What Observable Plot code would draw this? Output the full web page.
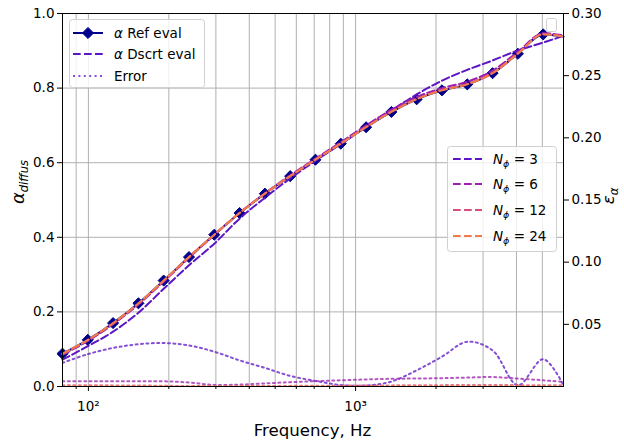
<!DOCTYPE html>
<html><head><meta charset="utf-8">
<script src="https://cdn.jsdelivr.net/npm/d3@7"></script>
<script src="https://cdn.jsdelivr.net/npm/@observablehq/plot@0.6"></script>
<style>
body{margin:0;background:#fff;}
svg{font-family:"DejaVu Sans",sans-serif;}
</style>
</head><body><div id="chart"></div>
<script>
// Frequencies (Hz) of the evaluation points (markers at all but the last)
const freq = [80, 99.5, 123.7, 153.9, 191.3, 238.0, 295.9, 368.0, 457.7, 569.2, 707.8, 880.3, 1094.7, 1361.4, 1693, 2105, 2618, 3256, 4050, 5036, 6000];
// alpha reference evaluation
const alphaRef = [0.088, 0.125, 0.170, 0.223, 0.284, 0.347, 0.407, 0.465, 0.517, 0.564, 0.608, 0.651, 0.695, 0.736, 0.770, 0.794, 0.810, 0.840, 0.892, 0.944, 0.938];
// alpha discrete evaluation, per N_phi
const alphaN3  = [0.072, 0.108, 0.147, 0.198, 0.262, 0.325, 0.383, 0.450, 0.506, 0.558, 0.605, 0.650, 0.696, 0.740, 0.783, 0.820, 0.849, 0.874, 0.901, 0.922, 0.940];
const alphaN6  = [0.085, 0.122, 0.167, 0.220, 0.281, 0.345, 0.406, 0.465, 0.518, 0.566, 0.611, 0.655, 0.700, 0.742, 0.776, 0.800, 0.817, 0.847, 0.897, 0.947, 0.941];
const alphaN12 = [0.087, 0.124, 0.169, 0.222, 0.283, 0.347, 0.407, 0.465, 0.517, 0.564, 0.609, 0.652, 0.696, 0.737, 0.771, 0.795, 0.811, 0.841, 0.893, 0.945, 0.939];
const alphaN24 = [0.088, 0.125, 0.170, 0.223, 0.284, 0.347, 0.407, 0.465, 0.517, 0.564, 0.608, 0.651, 0.695, 0.736, 0.770, 0.794, 0.810, 0.840, 0.892, 0.944, 0.938];
// error (right axis)
const errN3  = [0.019, 0.026, 0.031, 0.034, 0.035, 0.033, 0.028, 0.021, 0.015, 0.0085, 0.0045, 0.0012, 0.0008, 0.004, 0.013, 0.024, 0.036, 0.029, 0.001, 0.022, 0.001];
const errN6  = [0.0043, 0.0043, 0.0043, 0.0043, 0.0042, 0.0032, 0.0013, 0.0015, 0.0025, 0.0035, 0.0043, 0.0050, 0.0057, 0.0062, 0.0064, 0.0067, 0.0072, 0.0076, 0.0064, 0.0050, 0.0037];
const errN12 = [0.0010, 0.0010, 0.0009, 0.0008, 0.0006, 0.0004, 0.0003, 0.0003, 0.0004, 0.0005, 0.0006, 0.0007, 0.0008, 0.0009, 0.0010, 0.0011, 0.0012, 0.0012, 0.0011, 0.0010, 0.0010];
const errN24 = [0.0004, 0.0004, 0.0004, 0.0003, 0.0003, 0.0002, 0.0002, 0.0002, 0.0002, 0.0003, 0.0003, 0.0003, 0.0004, 0.0004, 0.0004, 0.0005, 0.0005, 0.0005, 0.0005, 0.0004, 0.0004];

const seriesNames = ["3", "6", "12", "24"];
const seriesColors = ["#5b14c6", "#9c1fae", "#d6517a", "#f07c4c"];
const refColor = "#00008b";
const leftTicks = [0, 0.2, 0.4, 0.6, 0.8, 1.0];
const leftGrid = [0.2, 0.4, 0.6, 0.8];
const rightTicks = [0.05, 0.10, 0.15, 0.20, 0.25, 0.30];
const errMax = 0.30;
const xMajorTicks = [100, 1000];
const xMajorLabels = ["10²", "10³"];
const xMinorTicks = [90, 200, 300, 400, 500, 600, 700, 800, 900, 2000, 3000, 4000, 5000];

const refRows = freq.map((f, i) => ({f, a: alphaRef[i]}));
const alphaSeries = [alphaN3, alphaN6, alphaN12, alphaN24];
const errSeries = [errN3, errN6, errN12, errN24];
const dscrtRows = [], errRows = [];
seriesNames.forEach((s, k) => {
  freq.forEach((f, i) => {
    dscrtRows.push({f, a: alphaSeries[k][i], s});
    errRows.push({f, e: errSeries[k][i], s});
  });
});

const markerR = 5.0;

const chart = Plot.plot({
  width: 624, height: 442,
  marginLeft: 62, marginRight: 61, marginTop: 13, marginBottom: 56,
  x: {type: "log", domain: [80, 6000]},
  y: {domain: [0, 1]},
  color: {domain: seriesNames, range: seriesColors},
  style: {fontFamily: "DejaVu Sans", fontSize: "13.5px", color: "black", background: "white"},
  marks: [
    Plot.gridX([...xMinorTicks, ...xMajorTicks], {stroke: "#b0b0b0", strokeOpacity: 1, strokeWidth: 1}),
    Plot.gridY(leftGrid, {stroke: "#b0b0b0", strokeOpacity: 1, strokeWidth: 1}),
    Plot.line(refRows, {x: "f", y: "a", stroke: refColor, strokeWidth: 2, curve: "monotone-x"}),
    Plot.dot(refRows.slice(0, 20), {x: "f", y: "a", symbol: "diamond2", r: markerR, fill: refColor, stroke: refColor, strokeWidth: 1}),
    Plot.line(dscrtRows, {x: "f", y: "a", z: "s", stroke: "s", strokeWidth: 2, strokeDasharray: "7.7,3.3", curve: "monotone-x"}),
    Plot.line(errRows, {x: "f", y: d => d.e / errMax, z: "s", stroke: "s", strokeWidth: 2, strokeOpacity: 0.75, strokeDasharray: "2,3.4", curve: "catmull-rom", clip: true}),
    Plot.frame({stroke: "black", strokeWidth: 1}),
    Plot.axisX(xMajorTicks, {tickSize: 5, tickPadding: 10, tickFormat: (d) => xMajorLabels[xMajorTicks.indexOf(d)], label: null}),
    Plot.axisX(xMinorTicks, {tickSize: 3, tickFormat: () => "", label: null}),
    Plot.axisY(leftTicks, {tickSize: 5, tickPadding: 3, tickFormat: d => d.toFixed(1), label: null}),
    Plot.axisY(rightTicks.map(v => v / errMax), {anchor: "right", tickSize: 5, tickPadding: 3, tickFormat: d => (d * errMax).toFixed(2), label: null})
  ]
});
document.getElementById("chart").appendChild(chart);

const svg = d3.select(chart);
const g = svg.append("g").attr("font-family", "DejaVu Sans").attr("fill", "black").attr("text-anchor", "start");

// axis labels
g.append("text").attr("x", 312.5).attr("y", 436).attr("text-anchor", "middle").attr("font-size", 16.6).text("Frequency, Hz");
const yl = g.append("text").attr("transform", "translate(24,182) rotate(-90)").attr("text-anchor", "middle").attr("font-size", 16.6);
yl.append("tspan").attr("font-style", "italic").attr("font-size", 18).text("α");
yl.append("tspan").attr("font-style", "italic").attr("font-size", 11.6).attr("dy", 4).text("diffus");
const yr = g.append("text").attr("transform", "translate(614,196) rotate(-90)").attr("text-anchor", "middle").attr("font-size", 16.6);
yr.append("tspan").attr("font-style", "italic").text("ε");
yr.append("tspan").attr("font-style", "italic").attr("font-size", 11.6).attr("dy", 4).text("α");

// empty legend box (twin axis)
g.append("rect").attr("x", 546.5).attr("y", 18.5).attr("width", 10).attr("height", 13).attr("rx", 2)
  .attr("fill", "white").attr("fill-opacity", 0.8).attr("stroke", "#d0d0d0");

// legend 1
const L1 = g.append("g");
L1.append("rect").attr("x", 69.5).attr("y", 19.5).attr("width", 135).attr("height", 68).attr("rx", 3)
  .attr("fill", "white").attr("fill-opacity", 0.8).attr("stroke", "#d0d0d0");
const l1rows = [33, 54, 76];
L1.append("line").attr("x1", 73).attr("x2", 103).attr("y1", l1rows[0]).attr("y2", l1rows[0]).attr("stroke", refColor).attr("stroke-width", 2);
L1.append("path").attr("d", d3.symbol(d3.symbolDiamond2, Math.PI * markerR * markerR)()).attr("transform", `translate(88,${l1rows[0]})`).attr("fill", refColor).attr("stroke", refColor);
L1.append("line").attr("x1", 73).attr("x2", 103).attr("y1", l1rows[1]).attr("y2", l1rows[1]).attr("stroke", seriesColors[0]).attr("stroke-width", 2).attr("stroke-dasharray", "7.7,3.3");
L1.append("line").attr("x1", 73).attr("x2", 103).attr("y1", l1rows[2]).attr("y2", l1rows[2]).attr("stroke", seriesColors[0]).attr("stroke-opacity", 0.75).attr("stroke-width", 2).attr("stroke-dasharray", "2,3.4");
const t1 = L1.append("text").attr("x", 114).attr("y", l1rows[0] + 5).attr("font-size", 13.5).attr("text-anchor", "start");
t1.append("tspan").attr("font-style", "italic").text("α");
t1.append("tspan").text(" Ref eval");
const t2 = L1.append("text").attr("x", 114).attr("y", l1rows[1] + 5).attr("font-size", 13.5).attr("text-anchor", "start");
t2.append("tspan").attr("font-style", "italic").text("α");
t2.append("tspan").text(" Dscrt eval");
L1.append("text").attr("x", 114).attr("y", l1rows[2] + 5).attr("font-size", 13.5).attr("text-anchor", "start").text("Error");

// legend 2
const L2 = g.append("g");
L2.append("rect").attr("x", 447.5).attr("y", 146.5).attr("width", 109).attr("height", 105).attr("rx", 3)
  .attr("fill", "white").attr("fill-opacity", 0.8).attr("stroke", "#d0d0d0");
const l2rows = [159, 184, 210, 236];
seriesNames.forEach((s, k) => {
  const y = l2rows[k];
  L2.append("line").attr("x1", 453).attr("x2", 482).attr("y1", y).attr("y2", y).attr("stroke", seriesColors[k]).attr("stroke-width", 2).attr("stroke-dasharray", "7.7,3.3");
  const t = L2.append("text").attr("x", 493).attr("y", y + 5).attr("font-size", 13.5).attr("text-anchor", "start");
  t.append("tspan").attr("font-style", "italic").text("N");
  t.append("tspan").attr("font-style", "italic").attr("font-size", 9.5).attr("dy", 3).text("ϕ");
  t.append("tspan").attr("dy", -3).text(" = " + s);
});
</script>
</body></html>
